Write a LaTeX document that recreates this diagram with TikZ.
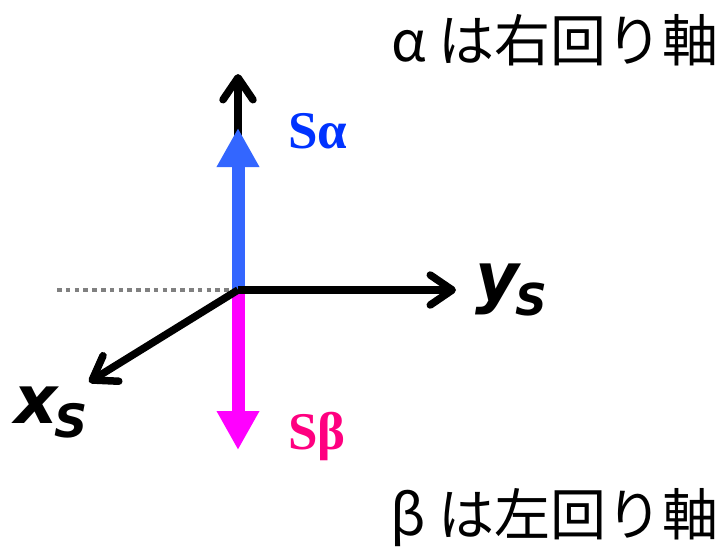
\documentclass[tikz,border=0pt]{standalone}
\usepackage{fontspec}
\usetikzlibrary{arrows.meta}
\newfontfamily\jpfont{Noto Sans CJK JP}
\newfontfamily\axfont{DejaVu Sans}
\newfontfamily\serfont{Liberation Serif}
\definecolor{axblue}{HTML}{3366FF}
\definecolor{txblue}{HTML}{0033FF}
\definecolor{axmag}{HTML}{FF00FF}
\definecolor{txpink}{HTML}{FF0080}
\definecolor{dotgray}{HTML}{808080}
\tikzset{
  axisline/.style={line width=7.5pt, -{Straight Barb[length=22pt,width=30pt,line cap=round,line join=round]}},
  spinarrow/.style={line width=13pt, -{Triangle[length=39pt,width=40pt]}},
  spinlabel/.style={font=\serfont\bfseries\fontsize{53}{56}\selectfont, inner sep=0pt, anchor=base west},
  axlabel/.style={font=\axfont\bfseries\itshape\fontsize{67}{70}\selectfont, inner sep=0pt, anchor=base west},
  jplabel/.style={font=\jpfont\fontsize{56}{60}\selectfont, inner sep=0pt, anchor=east},
}
\begin{document}
\begin{tikzpicture}[x=1pt,y=-1pt]
\useasboundingbox (0,0) rectangle (724,550);
\coordinate (O) at (238,290);
\coordinate (zt) at (238,74);
\coordinate (yt) at (456,290);
\coordinate (xt) at (89,382);
\coordinate (dl) at (57,290);
\coordinate (dr) at (232,290);
\coordinate (at) at (238,128);
\coordinate (bt) at (238,450);
\coordinate (bs) at (238,294);
\draw[dotgray, line width=4.5pt, dash pattern=on 4.5pt off 4.3pt] (dl) -- (dr);
\draw[axisline] (O) -- (zt);
\draw[spinarrow, axblue] (O) -- (at);
\draw[spinarrow, axmag] (bs) -- (bt);
\draw[axisline] (O) -- (yt);
\draw[axisline] (O) -- (xt);
\node[spinlabel, txblue] (sa) at (288,148) {Sα};
\node[spinlabel, txpink] (sb) at (288,449) {Sβ};
\node[axlabel] (ys) at (475,300) {y\kern-3pt{\fontsize{44}{46}\selectfont\raisebox{-15pt}{S}}};
\node[axlabel] (xs) at (14,423) {x\kern-3pt{\fontsize{46}{48}\selectfont\raisebox{-14pt}{S}}};
\node[jplabel] (ja) at (719,40) {α は右回り軸};
\node[jplabel] (jb) at (719,518) {β は左回り軸};
\end{tikzpicture}
\end{document}
